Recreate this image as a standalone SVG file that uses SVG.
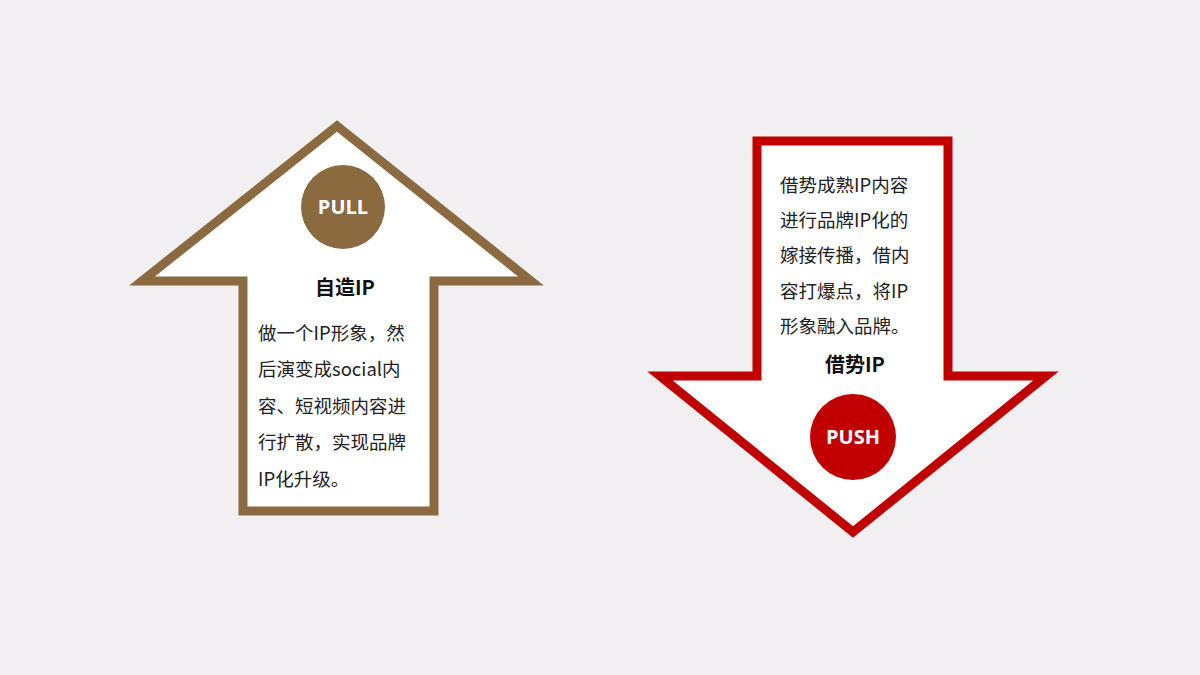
<svg xmlns="http://www.w3.org/2000/svg" width="1200" height="675" viewBox="0 0 1200 675">
<style>
.t{font-family:"Noto Sans CJK SC","Noto Sans",sans-serif;font-size:18.5px;fill:#222}
.h{font-family:"Noto Sans CJK SC","Noto Sans",sans-serif;font-size:20px;font-weight:bold;fill:#111;text-anchor:middle}
.c{font-family:"Open Sans","Noto Sans",sans-serif;font-size:20px;font-weight:bold;fill:#fff;text-anchor:middle}
</style>
<rect width="1200" height="675" fill="#f1eff1"/>
<g id="pull">
<polygon points="337,126 142,281 243,281 243,511 434,511 434,281 531,281" fill="#fff" stroke="#8c6a40" stroke-width="9"/>
<circle cx="343" cy="207" r="42" fill="#8c6a40"/>
<text class="c" x="343" y="214">PULL</text>
<text class="h" x="345" y="295">自造IP</text>
<text class="t" x="258" y="340">做一个IP形象，然</text>
<text class="t" x="258" y="376">后演变成social内</text>
<text class="t" x="258" y="413">容、短视频内容进</text>
<text class="t" x="258" y="449">行扩散，实现品牌</text>
<text class="t" x="258" y="486">IP化升级。</text>
</g>
<g id="push">
<polygon points="757,141 948,141 948,376 1046,376 853,532 660,376 757,376" fill="#fff" stroke="#c00000" stroke-width="9"/>
<circle cx="853" cy="437" r="43" fill="#c00000"/>
<text class="c" x="853" y="444">PUSH</text>
<text class="h" x="855" y="372">借势IP</text>
<text class="t" x="780" y="192">借势成熟IP内容</text>
<text class="t" x="780" y="227">进行品牌IP化的</text>
<text class="t" x="780" y="262">嫁接传播，借内</text>
<text class="t" x="780" y="298">容打爆点，将IP</text>
<text class="t" x="780" y="333">形象融入品牌。</text>
</g>
<g id="connectors"/>
</svg>
